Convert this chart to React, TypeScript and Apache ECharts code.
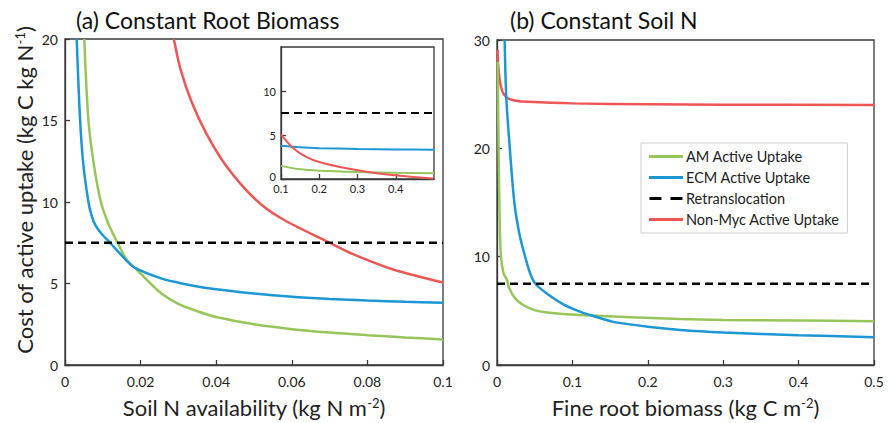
import React, { useEffect, useRef } from "react";
import * as echarts from "echarts";

const FONT = "Lato";
const GREEN = "#96C65A";
const BLUE = "#1C97D4";
const RED = "#EE5656";
const DARK = "#222222";

const NAMES = ["AM Active Uptake", "ECM Active Uptake", "Retranslocation", "Non-Myc Active Uptake"];
const RETRANS = 7.5;

// Panel (a): constant root biomass, x = soil N availability
const aAmX = [0.0051, 0.0062, 0.0077, 0.0095, 0.0115, 0.0139, 0.0163, 0.0185, 0.0251, 0.03, 0.035, 0.04, 0.05, 0.06, 0.07, 0.08, 0.09, 0.1];
const aAmY = [20, 15.0, 12.2, 10.0, 8.65, 7.5, 6.46, 5.96, 4.46, 3.75, 3.3, 2.95, 2.5, 2.2, 1.99, 1.83, 1.69, 1.57];
const aEcmX = [0.0031, 0.004, 0.0049, 0.0062, 0.007, 0.008, 0.0095, 0.0119, 0.0159, 0.0185, 0.0256, 0.03, 0.035, 0.04, 0.05, 0.06, 0.07, 0.08, 0.09, 0.1];
const aEcmY = [20, 15.0, 12.2, 10.0, 9.2, 8.6, 8.1, 7.5, 6.5, 5.96, 5.3, 5.05, 4.82, 4.65, 4.38, 4.18, 4.05, 3.95, 3.88, 3.82];
const aNonX = [0.0288, 0.0305, 0.0334, 0.0374, 0.0427, 0.0502, 0.0568, 0.07, 0.0762, 0.0868, 0.1];
const aNonY = [20, 18.2, 16.2, 14.2, 12.2, 10.2, 9.05, 7.5, 6.8, 5.86, 5.06];
const aRange = [0, 0.1];

// Inset of panel (a): soil N availability 0.1 - 0.5
const iAmX = [0.1, 0.15, 0.2, 0.3, 0.4, 0.5];
const iAmY = [1.49, 1.1, 0.95, 0.8, 0.7, 0.64];
const iEcmX = [0.1, 0.15, 0.2, 0.3, 0.4, 0.5];
const iEcmY = [3.78, 3.6, 3.5, 3.42, 3.36, 3.32];
const iNonX = [0.1, 0.132, 0.167, 0.202, 0.271, 0.341, 0.411, 0.498];
const iNonY = [5.04, 3.5, 2.48, 1.9, 1.22, 0.72, 0.38, 0.07];
const iRange = [0.1, 0.5];

// Panel (b): constant soil N, x = fine root biomass
const bAmX = [0.001, 0.0021, 0.0035, 0.0053, 0.0088, 0.0133, 0.0154, 0.022, 0.033, 0.0486, 0.066, 0.11, 0.243, 0.3, 0.4, 0.5];
const bAmY = [28, 19.8, 13.5, 9.95, 8.45, 7.85, 7.25, 6.35, 5.6, 5.09, 4.85, 4.61, 4.25, 4.16, 4.1, 4.04];
const bEcmX = [0.0101, 0.0124, 0.017, 0.023, 0.03, 0.0375, 0.044, 0.051, 0.066, 0.088, 0.11, 0.132, 0.154, 0.2, 0.243, 0.3, 0.4, 0.5];
const bEcmY = [30, 24.6, 20, 15, 12, 9.95, 8.45, 7.5, 6.6, 5.6, 4.93, 4.43, 3.98, 3.53, 3.23, 3.0, 2.75, 2.57];
const bNonX = [0.0008, 0.0015, 0.0034, 0.006, 0.009, 0.015, 0.025, 0.04, 0.1, 0.2, 0.3, 0.5];
const bNonY = [29.1, 27.8, 26.4, 25.5, 25.0, 24.6, 24.4, 24.3, 24.15, 24.07, 24.03, 24.0];
const bRange = [0, 0.5];

const zip = (xs: number[], ys: number[]) => xs.map((x, i) => [x, ys[i]]);

function line(name: string, color: string, xs: number[], ys: number[], idx: number, width = 2.5) {
  return {
    type: "line",
    name,
    xAxisIndex: idx,
    yAxisIndex: idx,
    data: zip(xs, ys),
    showSymbol: false,
    symbol: "none",
    smooth: 0.3,
    clip: true,
    lineStyle: { color, width },
    itemStyle: { color },
    z: 3,
  };
}

function dashed(idx: number, range: number[], width = 2.5) {
  return {
    type: "line",
    name: NAMES[2],
    xAxisIndex: idx,
    yAxisIndex: idx,
    data: range.map((x) => [x, RETRANS]),
    showSymbol: false,
    symbol: "none",
    lineStyle: { color: "#000", width, type: [8, 5] },
    itemStyle: { color: "#000" },
    z: 4,
  };
}

const frame = { color: "#3a3a3a", width: 1.3 };

const supRich = {
  sup: { fontSize: 13, fontFamily: FONT, color: DARK, verticalAlign: "top", lineHeight: 13 },
};

const nameStyle = {
  fontSize: 22,
  color: DARK,
  fontFamily: FONT,
  rich: supRich,
};

function xAx(idx: number, min: number, max: number, interval: number, fs: number, name?: string, label: any = {}) {
  return {
    type: "value",
    gridIndex: idx,
    min,
    max,
    interval,
    axisLine: { show: true, lineStyle: frame },
    axisTick: { show: true, inside: true, length: 5, lineStyle: frame },
    splitLine: { show: false },
    axisLabel: { fontSize: fs, color: DARK, fontFamily: FONT, margin: 9, ...label },
    name,
    nameLocation: "middle",
    nameGap: 31,
    nameTextStyle: nameStyle,
  };
}

function yAx(idx: number, min: number, max: number, interval: number, fs: number, label: any = {}) {
  return {
    type: "value",
    gridIndex: idx,
    min,
    max,
    interval,
    axisLine: { show: true, lineStyle: frame },
    axisTick: { show: true, inside: true, length: 5, lineStyle: frame },
    splitLine: { show: false },
    axisLabel: { fontSize: fs, color: DARK, fontFamily: FONT, margin: 7, ...label },
  };
}

const lineIcon = "path://M0,0H34V3H0Z";
const dashIcon = "path://M0,0H12V3H0Z M21,0H33V3H21Z";

export default function App() {
  const ref = useRef<HTMLDivElement>(null);
  useEffect(() => {
    if (!ref.current) return;
    const chart = echarts.init(ref.current, undefined, { renderer: "svg" });
    const option: any = {
      animation: false,
      backgroundColor: "#fff",
      textStyle: { fontFamily: FONT },
      title: [
        { text: "(a) Constant Root Biomass", left: 71, top: 3, textStyle: { fontSize: 23, fontWeight: "normal", color: "#111", fontFamily: FONT } },
        { text: "(b) Constant Soil N", left: 505, top: 3, textStyle: { fontSize: 23, fontWeight: "normal", color: "#111", fontFamily: FONT } },
      ],
      graphic: [
        {
          type: "text",
          x: 24,
          y: 190,
          rotation: Math.PI / 2,
          style: {
            text: "Cost of active uptake (kg C kg N{sup|-1})",
            fontSize: 22,
            fontFamily: FONT,
            fill: DARK,
            align: "center",
            verticalAlign: "middle",
            rich: supRich,
          },
        },
      ],
      legend: {
        data: NAMES.map((n, i) => ({ name: n, icon: i === 2 ? dashIcon : lineIcon })),
        orient: "vertical",
        left: 641,
        top: 143,
        padding: [6, 8, 6, 8],
        itemWidth: 34,
        itemHeight: 3,
        itemGap: 6,
        borderColor: "#cfcfcf",
        borderWidth: 1,
        backgroundColor: "#fff",
        textStyle: { fontSize: 14.5, color: DARK, fontFamily: FONT, padding: [0, 0, 0, -2], lineHeight: 15 },
        selectedMode: false,
      },
      grid: [
        { left: 65, top: 39, width: 378, height: 335, show: true, borderColor: frame.color, borderWidth: frame.width, backgroundColor: "transparent" },
        { left: 497, top: 40, width: 377, height: 334, show: true, borderColor: frame.color, borderWidth: frame.width, backgroundColor: "transparent" },
        { left: 281, top: 47, width: 153, height: 132, show: true, borderColor: frame.color, borderWidth: frame.width, backgroundColor: "#fff", z: 5 },
      ],
      xAxis: [
        xAx(0, aRange[0], aRange[1], 0.02, 14, "Soil N availability (kg N m{sup|-2})"),
        xAx(1, bRange[0], bRange[1], 0.1, 14, "Fine root biomass (kg C m{sup|-2})"),
        { ...xAx(2, iRange[0], iRange[1], 0.1, 11, undefined, { margin: 4, showMaxLabel: false }), z: 6 },
      ],
      yAxis: [
        yAx(0, 0, 20, 5, 14),
        yAx(1, 0, 30, 10, 14),
        {
          ...yAx(2, 0, 15, 5, 11, {
            margin: 5,
            showMaxLabel: false,
            formatter: (v: number) => (v === 0 ? "{z|0}" : String(v)),
            rich: { z: { fontSize: 11, fontFamily: FONT, color: DARK, padding: [0, 0, 6, 0] } },
          }),
          z: 6,
        },
      ],
      series: [
        line(NAMES[0], GREEN, aAmX, aAmY, 0),
        line(NAMES[1], BLUE, aEcmX, aEcmY, 0),
        dashed(0, aRange),
        line(NAMES[3], RED, aNonX, aNonY, 0),
        { ...line(NAMES[0], GREEN, bAmX, bAmY, 1), z: 3 },
        line(NAMES[1], BLUE, bEcmX, bEcmY, 1),
        dashed(1, bRange),
        { ...line(NAMES[3], RED, bNonX, bNonY, 1), z: 2 },
        { ...line(NAMES[0], GREEN, iAmX, iAmY, 2, 2), z: 7 },
        { ...line(NAMES[1], BLUE, iEcmX, iEcmY, 2, 2), z: 7 },
        { ...dashed(2, iRange, 2), z: 7 },
        { ...line(NAMES[3], RED, iNonX, iNonY, 2, 2), z: 7 },
      ],
    };
    chart.setOption(option);
    return () => chart.dispose();
  }, []);
  return (
    <div
      ref={ref}
      style={{ position: "fixed", left: 0, top: 0, width: 889, height: 423, background: "#fff" }}
    />
  );
}
